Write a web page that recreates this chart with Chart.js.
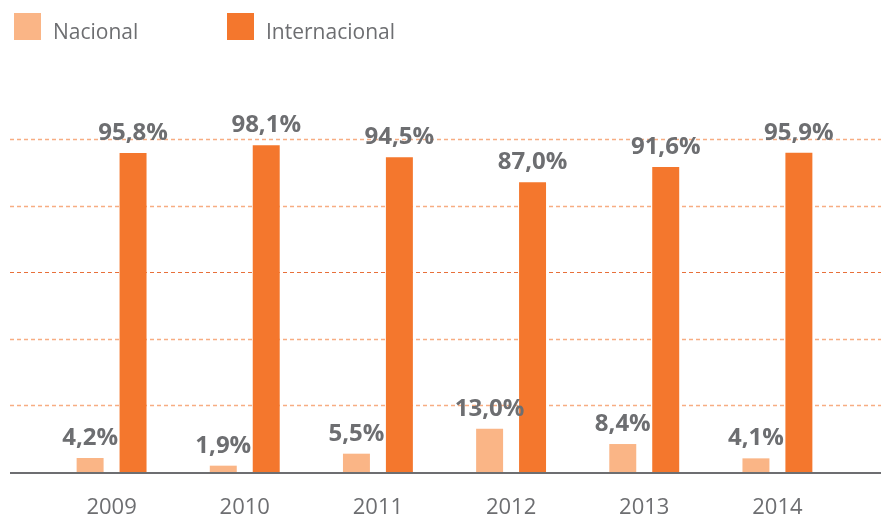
<!DOCTYPE html>
<html>
<head>
<meta charset="utf-8">
<script src="https://cdn.jsdelivr.net/npm/chart.js@4.4.1/dist/chart.umd.min.js"></script>
<style>
    body { margin: 0; background: #fff; }
    #wrap { position: relative; width: 881px; height: 515px; }
    canvas { display: block; }
    .legend-item { position: absolute; top: 13px; height: 27px; }
    .legend-box { position: absolute; left: 0; top: 0; width: 27px; height: 27px; }
    .legend-text { position: absolute; top: 8px; white-space: nowrap; font: 21px "Open Sans", sans-serif; line-height: 21px; color: #6d6e71; }
</style>
</head>
<body>
<div id="wrap">
    <canvas id="chart" width="881" height="515"></canvas>
    <div id="legend"></div>
</div>
<script>
    const years = ["2009", "2010", "2011", "2012", "2013", "2014"];
    const nacional = [4.2, 1.9, 5.5, 13.0, 8.4, 4.1];
    const internacional = [95.8, 98.1, 94.5, 87.0, 91.6, 95.9];
    const gridValues = [20, 40, 60, 80, 100];

    const grey = "#6d6e71";
    const lightOrange = "#fab586";
    const darkOrange = "#f4772d";

    // dashed guide lines + baseline run across the whole width
    const guides = {
        id: "guides",
        beforeDatasetsDraw(chart) {
            const { ctx, scales } = chart;
            ctx.save();
            gridValues.forEach((v) => {
                const y = Math.round(scales.y.getPixelForValue(v)) + 0.5;
                ctx.beginPath();
                ctx.setLineDash([4, 3]);
                ctx.lineWidth = v === 60 ? 1.2 : 1.6;
                ctx.strokeStyle = v === 60 ? "#e8703a" : "#f7ad82";
                ctx.moveTo(10, y);
                ctx.lineTo(chart.width, y);
                ctx.stroke();
            });
            ctx.restore();
        },
        afterDatasetsDraw(chart) {
            const { ctx, scales } = chart;
            ctx.save();
            const y0 = scales.y.getPixelForValue(0);
            ctx.fillStyle = grey;
            ctx.fillRect(10, y0, chart.width - 10, 2);

            ctx.font = "bold 24px 'Open Sans', sans-serif";
            ctx.fillStyle = grey;
            ctx.textAlign = "center";
            ctx.textBaseline = "alphabetic";
            chart.data.datasets.forEach((ds, i) => {
                chart.getDatasetMeta(i).data.forEach((bar, j) => {
                    const txt = ds.data[j].toFixed(1).replace(".", ",") + "%";
                    ctx.fillText(txt, bar.x, bar.y - 13);
                });
            });
            ctx.restore();
        },
    };

    const chart = new Chart(document.getElementById("chart"), {
        type: "bar",
        data: {
            labels: years,
            datasets: [
                { label: "Nacional", data: nacional, backgroundColor: lightOrange },
                { label: "Internacional", data: internacional, backgroundColor: darkOrange },
            ],
        },
        options: {
            responsive: false,
            animation: false,
            layout: { padding: { top: 139, left: 45, right: 37, bottom: 0 } },
            datasets: {
                bar: { categoryPercentage: 0.645, barPercentage: 0.628 },
            },
            plugins: {
                legend: { display: false },
                tooltip: { enabled: false },
            },
            scales: {
                x: {
                    grid: { display: false, drawTicks: false },
                    border: { display: false },
                    ticks: {
                        padding: 25,
                        color: grey,
                        font: { family: "'Open Sans', sans-serif", size: 22, lineHeight: 1 },
                    },
                    afterFit(scale) {
                        scale.height = 43;
                    },
                },
                y: {
                    display: false,
                    min: 0,
                    max: 100,
                    ticks: { stepSize: 20 },
                },
            },
        },
        plugins: [guides],
    });

    // legend from the datasets
    const legend = document.getElementById("legend");
    const legendLeft = [14, 227];
    chart.data.datasets.forEach((ds, i) => {
        const item = document.createElement("div");
        item.className = "legend-item";
        item.style.left = legendLeft[i] + "px";
        item.innerHTML =
            '<div class="legend-box" style="background:' + ds.backgroundColor + '"></div>' +
            '<div class="legend-text" style="left:39px">' + ds.label + "</div>";
        legend.appendChild(item);
    });
</script>
</body>
</html>
